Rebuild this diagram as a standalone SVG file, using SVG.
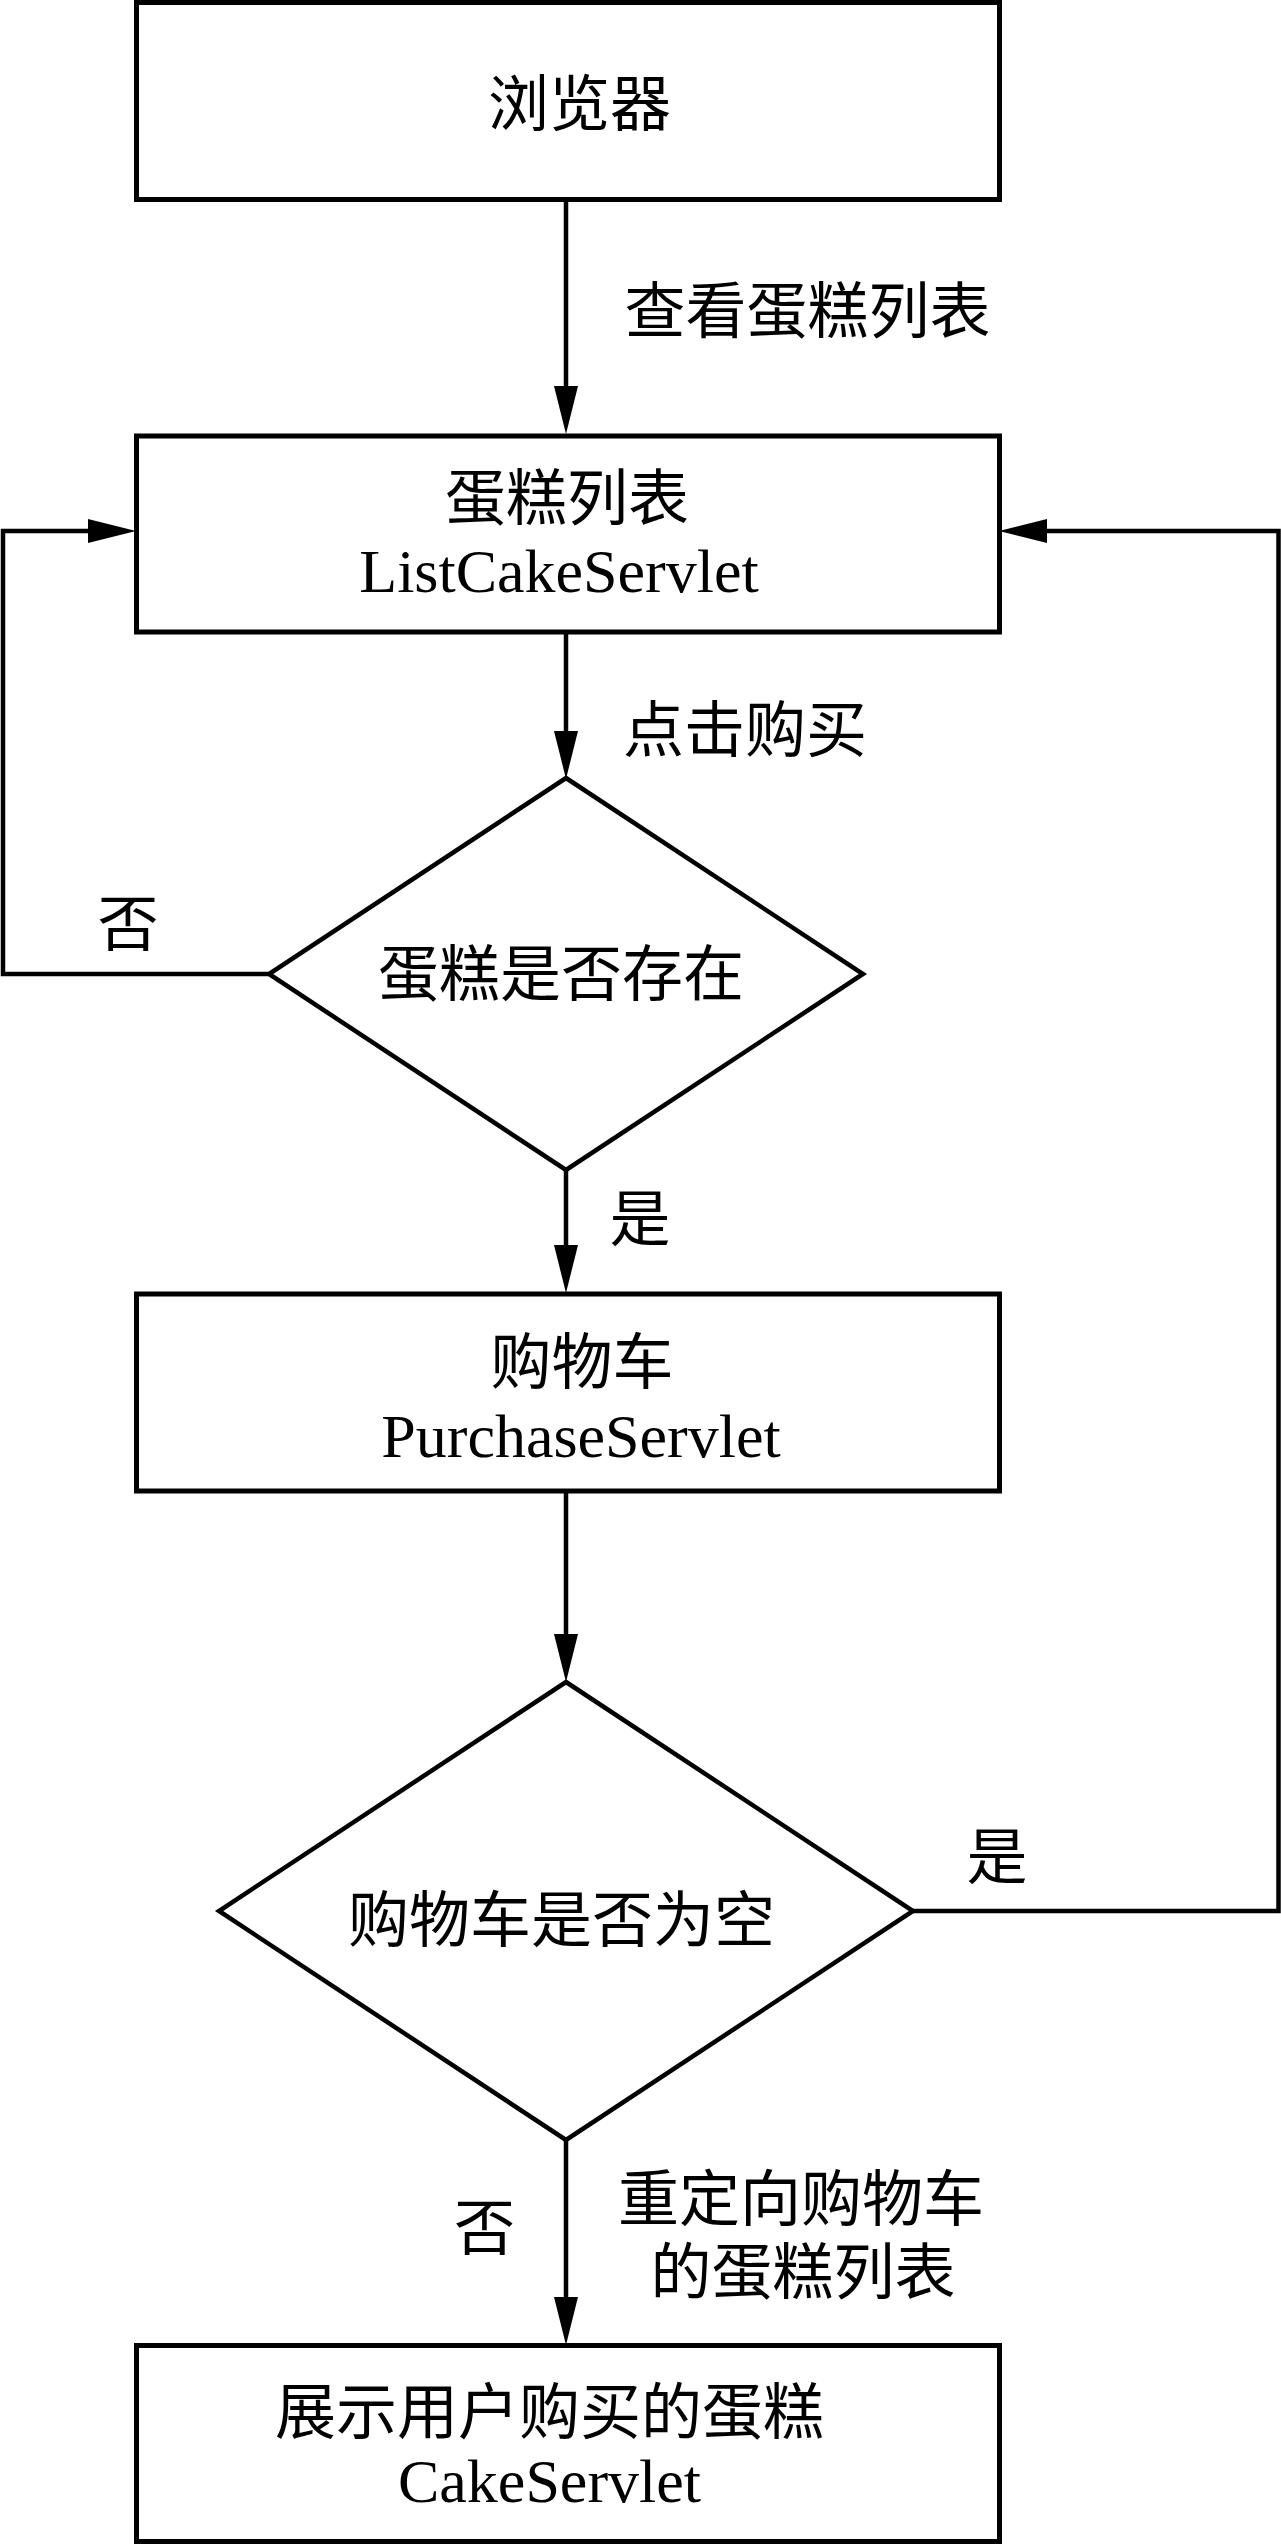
<svg xmlns="http://www.w3.org/2000/svg" width="1281" height="2545" viewBox="0 0 1281 2545">
  <style>
    .box { fill: #ffffff; stroke: #000000; stroke-width: 5; }
    .dia { fill: #ffffff; stroke: #000000; stroke-width: 4.5; stroke-linejoin: miter; }
    .edge { fill: none; stroke: #000000; stroke-width: 4.5; }
    .zh { font-family: "Liberation Serif", "Noto Sans CJK SC", serif; font-size: 61px; fill: #000000; text-anchor: middle; }
    .en { font-family: "Liberation Serif", "Noto Sans CJK SC", serif; font-size: 62px; fill: #000000; text-anchor: middle; }
  </style>
  <defs>
    <marker id="arrow" markerUnits="userSpaceOnUse" markerWidth="48" markerHeight="24" refX="0" refY="12" orient="auto" overflow="visible">
      <path d="M0,0 L48,12 L0,24 Z" fill="#000000"/>
    </marker>
  </defs>
  <rect width="1281" height="2545" fill="#ffffff"/>

  <g id="connectors">
    <line class="edge" x1="566" y1="200" x2="566" y2="386" marker-end="url(#arrow)"/>
    <line class="edge" x1="566" y1="632" x2="566" y2="731" marker-end="url(#arrow)"/>
    <line class="edge" x1="566" y1="1170" x2="566" y2="1245" marker-end="url(#arrow)"/>
    <line class="edge" x1="566" y1="1491" x2="566" y2="1634" marker-end="url(#arrow)"/>
    <line class="edge" x1="566" y1="2140" x2="566" y2="2297" marker-end="url(#arrow)"/>
    <polyline class="edge" points="269,974 3,974 3,531 88,531" marker-end="url(#arrow)"/>
    <polyline class="edge" points="913,1911 1278.5,1911 1278.5,531 1047,531" marker-end="url(#arrow)"/>
    <text class="zh" x="807.5" y="333">查看蛋糕列表</text>
    <text class="zh" x="745" y="752">点击购买</text>
    <text class="zh" x="128" y="946">否</text>
    <text class="zh" x="640" y="1241">是</text>
    <text class="zh" x="997" y="1879">是</text>
    <text class="zh" x="484.5" y="2250">否</text>
    <text class="zh" x="801" y="2221">重定向购物车</text>
    <text class="zh" x="803" y="2294">的蛋糕列表</text>
  </g>

  <g id="browser">
    <rect class="box" x="136.5" y="2.5" width="863" height="197"/>
    <text class="zh" x="579.5" y="126">浏览器</text>
  </g>

  <g id="list-cake">
    <rect class="box" x="136.5" y="436" width="863" height="196"/>
    <text class="zh" x="567" y="520">蛋糕列表</text>
    <text class="en" x="559" y="592">ListCakeServlet</text>
  </g>

  <g id="cake-exists">
    <polygon class="dia" points="566,778 863,974 566,1170 269,974"/>
    <text class="zh" x="561" y="996">蛋糕是否存在</text>
  </g>

  <g id="purchase">
    <rect class="box" x="136.5" y="1294" width="863" height="197"/>
    <text class="zh" x="582" y="1384">购物车</text>
    <text class="en" x="581" y="1457">PurchaseServlet</text>
  </g>

  <g id="cart-empty">
    <polygon class="dia" points="566,1682 913,1911 566,2140 219,1911"/>
    <text class="zh" x="561.5" y="1942">购物车是否为空</text>
  </g>

  <g id="show-cake">
    <rect class="box" x="136.5" y="2345.5" width="863" height="196"/>
    <text class="zh" x="549.5" y="2434">展示用户购买的蛋糕</text>
    <text class="en" x="549.5" y="2502">CakeServlet</text>
  </g>
</svg>
